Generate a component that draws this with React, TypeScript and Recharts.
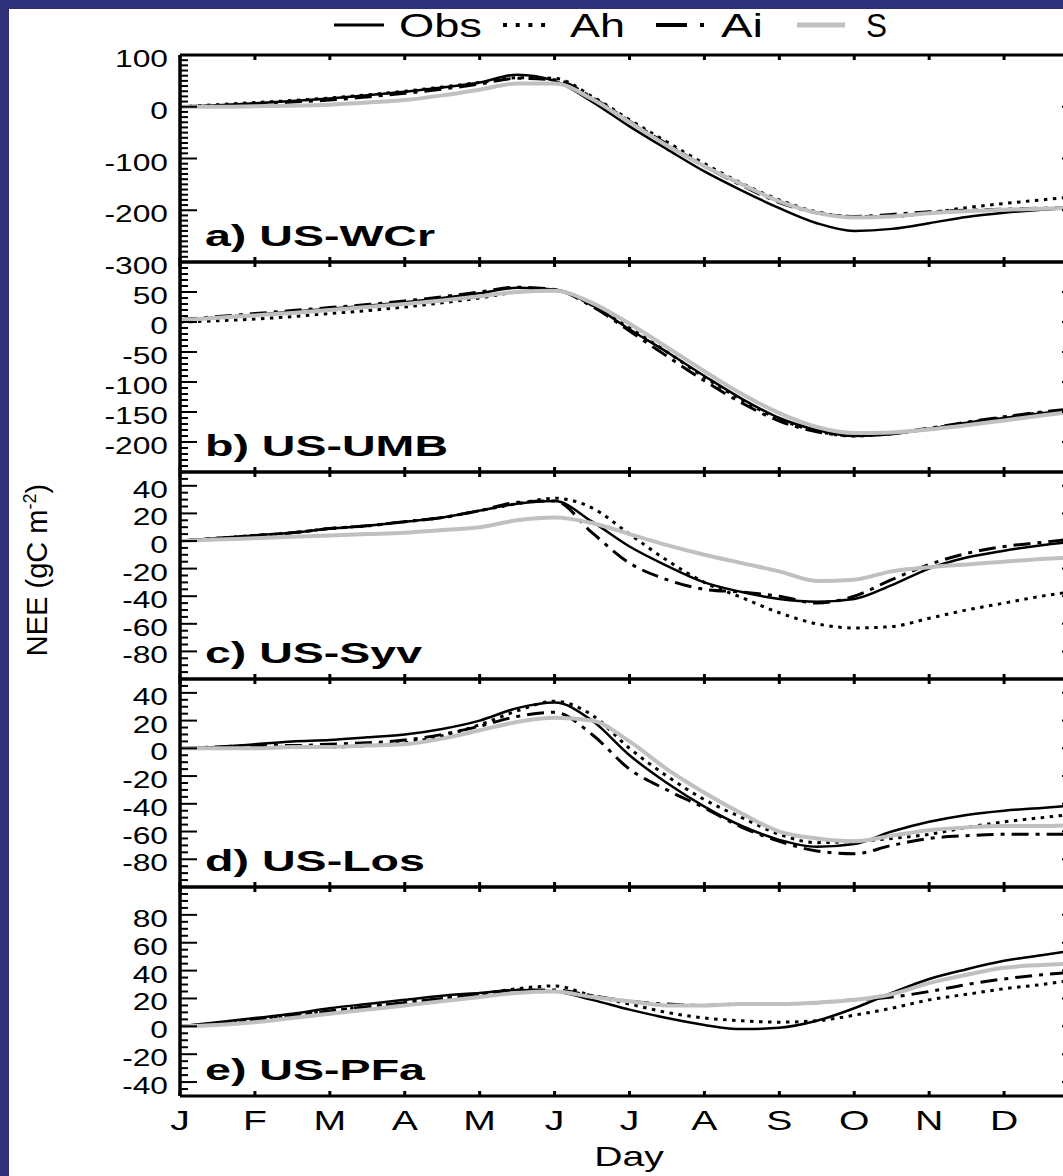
import React from 'react'
import { LineChart, Line, XAxis, YAxis } from 'recharts'

const NAVY = '#2e3179'
const FONT = '"Liberation Sans", Arial, Helvetica, sans-serif'
const GREY = '#c0c0c0'

// x in months, half-month steps (0 = 1 Jan, 12 = end of Dec)
const monthPos = [0, 0.5, 1, 1.5, 2, 2.5, 3, 3.5, 4, 4.5, 5, 5.5, 6, 6.5, 7, 7.5, 8, 8.5, 9, 9.5, 10, 10.5, 11, 11.5, 12]
const monthTicks = [0, 1, 2, 3, 4, 5, 6, 7, 8, 9, 10, 11, 12]
const monthLabels = ['J', 'F', 'M', 'A', 'M', 'J', 'J', 'A', 'S', 'O', 'N', 'D']

// a) US-WCr
const wcrObs = [0, 3, 7, 11, 16, 22, 29, 37, 47, 62, 50, 10, -38, -82, -125, -162, -196, -225, -240, -236, -225, -213, -205, -199, -195]
const wcrAh = [0, 4, 8, 12, 17, 23, 30, 38, 47, 56, 55, 20, -25, -68, -110, -148, -180, -203, -212, -212, -205, -195, -187, -180, -173]
const wcrAi = [0, 2, 5, 9, 13, 19, 26, 34, 44, 55, 52, 18, -28, -72, -115, -152, -185, -205, -212, -208, -203, -200, -198, -196, -195]
const wcrS = [0, 0, 1, 2, 4, 8, 13, 22, 33, 45, 45, 15, -30, -75, -115, -150, -183, -205, -214, -212, -206, -202, -199, -197, -195]

// b) US-UMB
const umbObs = [3, 8, 12, 17, 22, 27, 33, 40, 48, 57, 54, 28, -12, -50, -90, -128, -160, -180, -190, -187, -178, -168, -160, -152, -145]
const umbAh = [0, 2, 5, 9, 14, 19, 25, 32, 40, 50, 53, 28, -10, -50, -92, -130, -162, -182, -190, -186, -178, -168, -159, -151, -144]
const umbAi = [4, 9, 14, 19, 24, 29, 35, 42, 50, 58, 54, 26, -15, -57, -98, -135, -165, -183, -189, -185, -177, -167, -158, -150, -144]
const umbS = [3, 7, 11, 15, 20, 25, 30, 36, 43, 50, 52, 32, -3, -42, -82, -120, -152, -175, -185, -184, -179, -172, -164, -156, -148]

// c) US-Syv
const syvObs = [0, 2, 4, 6, 9, 11, 14, 17, 22, 27, 29, 14, -4, -18, -30, -37, -42, -44, -42, -32, -20, -12, -7, -3, 0]
const syvAh = [0, 2, 4, 6, 9, 11, 14, 17, 22, 27, 31, 24, 5, -14, -30, -41, -52, -60, -63, -62, -56, -50, -45, -40, -36]
const syvAi = [0, 2, 4, 6, 9, 11, 14, 17, 22, 28, 29, 6, -16, -28, -35, -37, -40, -45, -40, -28, -17, -9, -4, -1, 2]
const syvS = [0, 1, 2, 3, 4, 5, 6, 8, 10, 15, 17, 13, 5, -3, -10, -16, -22, -29, -28, -22, -19, -17, -15, -13, -12]

// d) US-Los
const losObs = [0, 1, 3, 5, 6, 8, 10, 14, 20, 29, 33, 20, -5, -25, -42, -56, -66, -71, -69, -60, -53, -48, -45, -43, -41]
const losAh = [0, 0, 0, 1, 1, 2, 4, 9, 17, 27, 34, 24, 0, -20, -37, -50, -62, -68, -67, -65, -62, -57, -53, -50, -47]
const losAi = [0, 1, 2, 2, 3, 4, 6, 10, 16, 23, 26, 10, -15, -30, -43, -57, -67, -74, -76, -70, -65, -63, -62, -62, -62]
const losS = [0, 0, 0, 1, 1, 2, 3, 7, 13, 19, 22, 20, 5, -15, -32, -47, -60, -65, -67, -63, -59, -57, -56, -56, -55]

// e) US-PFa
const pfaObs = [0, 3, 6, 9, 13, 16, 19, 22, 24, 26, 25, 19, 12, 6, 1, -2, -1, 4, 13, 24, 34, 41, 47, 51, 55]
const pfaAh = [0, 2, 5, 8, 11, 14, 17, 20, 23, 27, 29, 22, 16, 10, 6, 4, 3, 4, 8, 13, 19, 23, 27, 30, 34]
const pfaAi = [0, 2, 5, 8, 11, 14, 17, 20, 23, 26, 26, 22, 18, 16, 15, 16, 16, 17, 19, 21, 25, 30, 34, 37, 39]
const pfaS = [0, 1, 3, 6, 9, 12, 15, 18, 21, 24, 25, 21, 18, 15, 15, 16, 16, 17, 19, 23, 31, 37, 42, 44, 45]

const buildRows = (obs: number[], ah: number[], ai: number[], s: number[]) =>
  monthPos.map((m, i) => ({ m, obs: obs[i], ah: ah[i], ai: ai[i], s: s[i] }))

const steps = (lo: number, hi: number, step: number) => {
  const out: number[] = []
  for (let v = lo; v <= hi; v += step) out.push(v)
  return out
}

const panels = [
  { id: 'a', label: 'a) US-WCr', labelW: 230, rows: buildRows(wcrObs, wcrAh, wcrAi, wcrS), domain: [-300, 100], minor: 10, majors: [-300, -200, -100, 0, 100], top: 55, bottom: 262 },
  { id: 'b', label: 'b) US-UMB', labelW: 243, rows: buildRows(umbObs, umbAh, umbAi, umbS), domain: [-250, 100], minor: 10, majors: [-200, -150, -100, -50, 0, 50], top: 262, bottom: 472 },
  { id: 'c', label: 'c) US-Syv', labelW: 217, rows: buildRows(syvObs, syvAh, syvAi, syvS), domain: [-100, 50], minor: 5, majors: [-80, -60, -40, -20, 0, 20, 40], top: 472, bottom: 679 },
  { id: 'd', label: 'd) US-Los', labelW: 220, rows: buildRows(losObs, losAh, losAi, losS), domain: [-100, 50], minor: 5, majors: [-80, -60, -40, -20, 0, 20, 40], top: 679, bottom: 887 },
  { id: 'e', label: 'e) US-PFa', labelW: 220, rows: buildRows(pfaObs, pfaAh, pfaAi, pfaS), domain: [-50, 100], minor: 5, majors: [-40, -20, 0, 20, 40, 60, 80], top: 887, bottom: 1096 },
]

const PAD = 26
const CHART_W = 1080

const leftTick = (majors: number[]) => (props: any) => {
  const { x, y, payload } = props
  const v = payload.value
  const major = majors.includes(v)
  return (
    <g>
      <line x1={x} x2={x + (major ? 17 : 8)} y1={y} y2={y} stroke="#000" strokeWidth={2} />
      {major && (
        <text transform={`translate(${x - 12},${y + 12}) scale(1.38,1)`} textAnchor="end" fontSize={23} fontFamily={FONT} fill="#000">
          {v}
        </text>
      )}
    </g>
  )
}

const rightTick = (majors: number[]) => (props: any) => {
  const { x, y, payload } = props
  const major = majors.includes(payload.value)
  return <line x1={x} x2={x - (major ? 17 : 8)} y1={y} y2={y} stroke="#000" strokeWidth={2} />
}

const topTick = (props: any) => {
  const { x, y } = props
  return <line x1={x} x2={x} y1={y} y2={y + 5} stroke="#000" strokeWidth={3} />
}

const bottomTick = (showLabel: boolean) => (props: any) => {
  const { x, y, payload } = props
  const lab = monthLabels[payload.value]
  return (
    <g>
      <line x1={x} x2={x} y1={y} y2={y - 5} stroke="#000" strokeWidth={3} />
      {showLabel && lab && (
        <text transform={`translate(${x},${y + 34}) scale(1.4,1)`} textAnchor="middle" fontSize={28} fontFamily={FONT} fill="#000">
          {lab}
        </text>
      )}
    </g>
  )
}

function Panel({ p, last }: { p: (typeof panels)[number]; last: boolean }) {
  const mb = last ? 80 : PAD
  const plotH = p.bottom - p.top
  const ticks = steps(p.domain[0], p.domain[1], p.minor)
  return (
    <div style={{ position: 'absolute', left: 0, top: p.top - PAD }}>
      <LineChart width={CHART_W} height={PAD + plotH + mb} data={p.rows} margin={{ top: PAD - 1, right: 0, bottom: mb - 1, left: 0 }}>
        <XAxis xAxisId="b" dataKey="m" type="number" domain={[0, 12]} ticks={monthTicks} interval={0} height={1}
          axisLine={{ stroke: '#000', strokeWidth: 3 }} tickLine={false} tickSize={0} tickMargin={0} tick={bottomTick(last)} />
        <XAxis xAxisId="t" orientation="top" dataKey="m" type="number" domain={[0, 12]} ticks={monthTicks} interval={0} height={1}
          axisLine={{ stroke: '#000', strokeWidth: 3 }} tickLine={false} tickSize={0} tickMargin={0} tick={topTick} />
        <YAxis yAxisId="l" type="number" domain={p.domain} ticks={ticks} interval={0} width={180} allowDataOverflow
          axisLine={{ stroke: '#000', strokeWidth: 3.5 }} tickLine={false} tickSize={0} tickMargin={0} tick={leftTick(p.majors)} />
        <YAxis yAxisId="r" orientation="right" type="number" domain={p.domain} ticks={ticks} interval={0} width={1} allowDataOverflow
          axisLine={{ stroke: '#000', strokeWidth: 3 }} tickLine={false} tickSize={0} tickMargin={0} tick={rightTick(p.majors)} />
        <Line xAxisId="b" yAxisId="l" type="monotone" dataKey="obs" stroke="#000" strokeWidth={2.5} dot={false} isAnimationActive={false} />
        <Line xAxisId="b" yAxisId="l" type="monotone" dataKey="ah" stroke="#000" strokeWidth={3} strokeDasharray="3.5 5.5" dot={false} isAnimationActive={false} />
        <Line xAxisId="b" yAxisId="l" type="monotone" dataKey="ai" stroke="#000" strokeWidth={3} strokeDasharray="17 7 4 7" dot={false} isAnimationActive={false} />
        <Line xAxisId="b" yAxisId="l" type="monotone" dataKey="s" stroke={GREY} strokeWidth={4} dot={false} isAnimationActive={false} />
      </LineChart>
    </div>
  )
}

export default function App() {
  return (
    <div style={{ position: 'absolute', left: 0, top: 0, width: 1063, height: 1176, overflow: 'hidden', background: '#fff', fontFamily: FONT }}>
      {panels.map((p, i) => (
        <Panel key={p.id} p={p} last={i === panels.length - 1} />
      ))}
      <svg width={1063} height={1176} style={{ position: 'absolute', left: 0, top: 0, pointerEvents: 'none' }}>
        {/* legend */}
        <line x1={334} x2={384} y1={25} y2={25} stroke="#000" strokeWidth={3} />
        <text x={399} y={37} fontSize={33} textLength={83} lengthAdjust="spacingAndGlyphs" fontFamily={FONT}>Obs</text>
        <line x1={503} x2={547} y1={25} y2={25} stroke="#000" strokeWidth={4} strokeDasharray="4 8.7" />
        <text x={570} y={37} fontSize={33} textLength={55} lengthAdjust="spacingAndGlyphs" fontFamily={FONT}>Ah</text>
        <line x1={656} x2={704} y1={25} y2={25} stroke="#000" strokeWidth={4} strokeDasharray="31 13 4 20" />
        <text x={721} y={37} fontSize={33} textLength={42} lengthAdjust="spacingAndGlyphs" fontFamily={FONT}>Ai</text>
        <line x1={797} x2={845} y1={25} y2={25} stroke={GREY} strokeWidth={5} />
        <text x={866} y={37} fontSize={33} textLength={21} lengthAdjust="spacingAndGlyphs" fontFamily={FONT}>S</text>
        {/* panel labels */}
        {panels.map((p) => (
          <text key={p.id} x={205} y={p.bottom - 16} fontSize={29} fontWeight="bold" textLength={p.labelW} lengthAdjust="spacingAndGlyphs" fontFamily={FONT}>
            {p.label}
          </text>
        ))}
        {/* axis titles */}
        <text transform="translate(47,570) rotate(-90)" textAnchor="middle" fontSize={29} fontFamily={FONT}>
          NEE (gC m<tspan dy={-11} fontSize={18}>-2</tspan><tspan dy={11}>)</tspan>
        </text>
        <text transform="translate(629,1166) scale(1.4,1)" textAnchor="middle" fontSize={28} fontFamily={FONT}>Day</text>
      </svg>
      <div style={{ position: 'absolute', left: 0, top: 0, width: 1063, height: 9, background: NAVY }} />
      <div style={{ position: 'absolute', left: 0, top: 0, width: 9, height: 1176, background: NAVY }} />
    </div>
  )
}
